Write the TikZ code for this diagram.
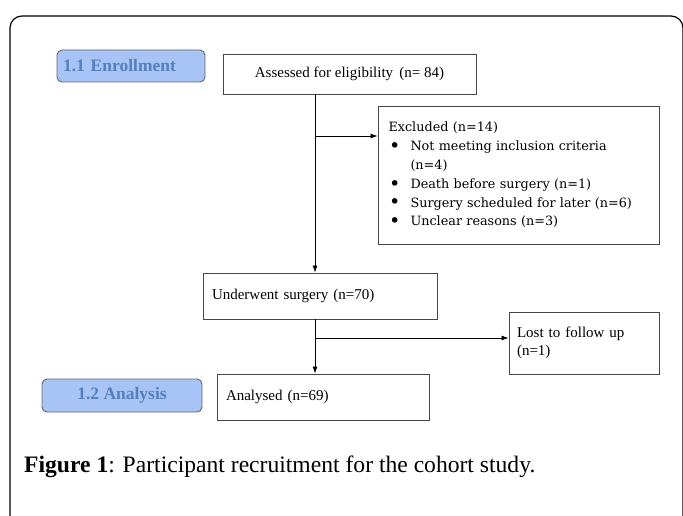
\documentclass[tikz,border=0pt]{standalone}
\usepackage{fontspec}
\setmainfont{Liberation Serif}
\newfontfamily\exclfont{DejaVu Serif}
\usetikzlibrary{arrows.meta}
\definecolor{phasefill}{RGB}{168,196,246}
\definecolor{phasetext}{RGB}{84,128,190}
\definecolor{phaseline}{RGB}{95,100,115}
\definecolor{boxline}{RGB}{70,70,70}
\tikzset{
  stage/.style={draw=boxline,line width=0.9pt,rectangle,inner sep=0pt,
    font=\fontsize{15}{18}\selectfont},
  phase/.style={draw=phaseline,fill=phasefill,line width=0.9pt,rounded corners=5pt,
    text=phasetext,font=\fontsize{17.5}{20}\selectfont\bfseries},
  flow/.style={-{Latex[length=7pt,width=5pt]},line width=0.8pt}
}
\newcommand{\bitem}{\makebox[22pt][l]{\hspace{0.5pt}\raisebox{-1.8pt}{\scalebox{1.5}{\textbullet}}}}
\begin{document}
\begin{tikzpicture}[x=1pt,y=-1pt]
\useasboundingbox (0,0) rectangle (683,516);
% outer frame
\draw[line width=1.2pt] (10,520) -- (10,28) arc[start angle=180,end angle=270,radius=12]
  -- (671,16) arc[start angle=-90,end angle=0,radius=12] -- (683,520);

% phases
\node[phase,minimum width=148pt,minimum height=32pt,text width=136pt,align=left,
  inner xsep=6pt] (enroll) at (131,66) {1.1 Enrollment};
\node[phase,minimum width=160pt,minimum height=33pt] (analysis) at (122,395.5) {1.2 Analysis};

% stages
\node[stage,minimum width=253pt,minimum height=40pt] (assess) at (349.5,74)
  {Assessed for eligibility\, (n= 84)};
\node[stage,minimum width=281pt,minimum height=138pt,text width=260pt,align=left,
  font=\exclfont\fontsize{12.8}{18.8}\selectfont] (excl) at (518.5,175)
  {Excluded (n=14)\\
   \bitem Not meeting inclusion criteria\\
   \hspace*{22pt}(n=4)\\
   \bitem Death before surgery (n=1)\\
   \bitem Surgery scheduled for later (n=6)\\
   \bitem Unclear reasons (n=3)};
\node[stage,minimum width=234pt,minimum height=46pt,text width=216pt,align=left] (surg) at (320,296)
  {Underwent surgery (n=70)\\[4pt]};
\node[stage,minimum width=150pt,minimum height=62pt,text width=134pt,align=left] (lost) at (584,343)
  {Lost to follow up\\(n=1)\\[4pt]};
\node[stage,minimum width=212pt,minimum height=46pt,text width=194pt,align=left] (analysed) at (323,397)
  {Analysed (n=69)\\[4pt]};

% connectors
\coordinate (split1) at (315,136);
\coordinate (split2) at (315,338);
\draw[flow] (assess.south -| split1) -- (surg.north -| split1);
\draw[flow] (split1) -- (excl.west |- split1);
\draw[flow] (surg.south -| split2) -- (analysed.north -| split2);
\draw[flow] (split2) -- (lost.west |- split2);

% caption
\node[anchor=west,inner sep=0pt,font=\fontsize{23.6}{26}\selectfont] (caption) at (24,467)
  {\textbf{Figure 1}: Participant recruitment for the cohort study.};
\end{tikzpicture}
\end{document}
